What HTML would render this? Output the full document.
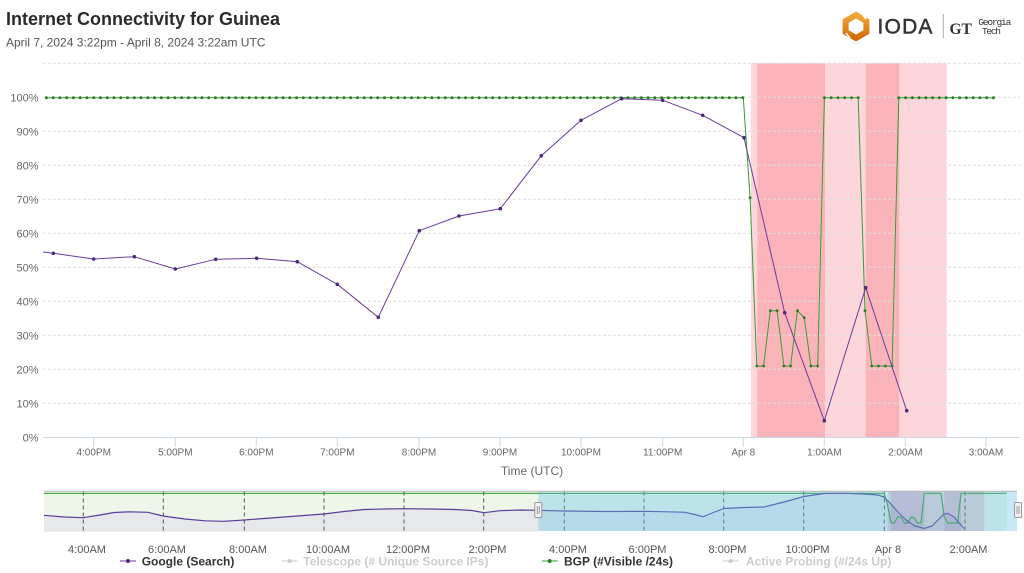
<!DOCTYPE html>
<html>
<head>
<meta charset="utf-8">
<style>
  html,body{margin:0;padding:0;background:#fff;}
  body{width:1024px;height:573px;overflow:hidden;font-family:"Liberation Sans",Arial,sans-serif;}
  svg{display:block;}
  text{font-family:"Liberation Sans",Arial,sans-serif;}
</style>
</head>
<body>
<svg width="1024" height="573" viewBox="0 0 1024 573" xmlns="http://www.w3.org/2000/svg">
  <defs>
    <linearGradient id="og" x1="0" y1="0" x2="0" y2="1">
      <stop offset="0" stop-color="#f2a93a"/>
      <stop offset="1" stop-color="#d2690e"/>
    </linearGradient>
  </defs>

  <!-- Title -->
  <text x="6" y="25" font-size="18" font-weight="bold" fill="#2b2b2b">Internet Connectivity for Guinea</text>
  <text x="6" y="46.5" font-size="12" fill="#555">April 7, 2024 3:22pm - April 8, 2024 3:22am UTC</text>

  <!-- Logo -->
  <polygon points="856,15 866.4,21 866.4,32 856,38 845.6,32 845.6,21" fill="none" stroke="url(#og)" stroke-width="6" stroke-linejoin="miter"/>
  <line x1="862" y1="14" x2="866" y2="19" stroke="#fff" stroke-width="1.5"/>
  <line x1="846" y1="33" x2="850" y2="38" stroke="#fff" stroke-width="1.5"/>
  <text x="877.5" y="33.5" font-size="21" fill="#333" stroke="#333" stroke-width="0.5" letter-spacing="1.2">IODA</text>
  <line x1="943.3" y1="14" x2="943.3" y2="38" stroke="#aaa" stroke-width="1"/>
  <text x="949.5" y="34" font-size="15.5" font-weight="bold" fill="#333" style="font-family:'Liberation Serif',serif">GT</text>
  <text x="978.3" y="25" font-size="9.5" fill="#333" style="font-family:'Liberation Mono','Liberation Serif',serif" textLength="33">Georgia</text>
  <text x="982" y="34" font-size="9.5" fill="#333" style="font-family:'Liberation Mono','Liberation Serif',serif" textLength="19">Tech</text>

  <!-- Plot bands -->
  <rect x="751" y="63.3" width="195.7" height="374" fill="#fdd6db"/>
  <rect x="757.3" y="63.3" width="67.7" height="374" fill="#fbb3ba"/>
  <rect x="865.7" y="63.3" width="33.6" height="374" fill="#fbb3ba"/>

  <!-- Gridlines -->
  <g stroke="#dedede" stroke-width="1" stroke-dasharray="3,2">
    <line x1="43" y1="63.3" x2="1020" y2="63.3"/>
    <line x1="43" y1="97.3" x2="1020" y2="97.3"/>
    <line x1="43" y1="131.3" x2="1020" y2="131.3"/>
    <line x1="43" y1="165.3" x2="1020" y2="165.3"/>
    <line x1="43" y1="199.3" x2="1020" y2="199.3"/>
    <line x1="43" y1="233.3" x2="1020" y2="233.3"/>
    <line x1="43" y1="267.3" x2="1020" y2="267.3"/>
    <line x1="43" y1="301.3" x2="1020" y2="301.3"/>
    <line x1="43" y1="335.3" x2="1020" y2="335.3"/>
    <line x1="43" y1="369.3" x2="1020" y2="369.3"/>
    <line x1="43" y1="403.3" x2="1020" y2="403.3"/>
  </g>
  <!-- X axis -->
  <line x1="43" y1="437.5" x2="1020" y2="437.5" stroke="#ccd6eb" stroke-width="1"/>
  <g stroke="#ccd6eb" stroke-width="1">
    <line x1="93.7" y1="437.5" x2="93.7" y2="447"/>
    <line x1="175.3" y1="437.5" x2="175.3" y2="447"/>
    <line x1="256.3" y1="437.5" x2="256.3" y2="447"/>
    <line x1="337.3" y1="437.5" x2="337.3" y2="447"/>
    <line x1="419" y1="437.5" x2="419" y2="447"/>
    <line x1="500" y1="437.5" x2="500" y2="447"/>
    <line x1="581" y1="437.5" x2="581" y2="447"/>
    <line x1="662.7" y1="437.5" x2="662.7" y2="447"/>
    <line x1="743.3" y1="437.5" x2="743.3" y2="447"/>
    <line x1="824.3" y1="437.5" x2="824.3" y2="447"/>
    <line x1="905.3" y1="437.5" x2="905.3" y2="447"/>
    <line x1="986" y1="437.5" x2="986" y2="447"/>
  </g>

  <!-- Y labels -->
  <g font-size="11" fill="#666" text-anchor="end">
    <text x="38.5" y="101.3">100%</text>
    <text x="38.5" y="135.3">90%</text>
    <text x="38.5" y="169.3">80%</text>
    <text x="38.5" y="203.3">70%</text>
    <text x="38.5" y="237.3">60%</text>
    <text x="38.5" y="271.3">50%</text>
    <text x="38.5" y="305.3">40%</text>
    <text x="38.5" y="339.3">30%</text>
    <text x="38.5" y="373.3">20%</text>
    <text x="38.5" y="407.3">10%</text>
    <text x="38.5" y="441.3">0%</text>
  </g>
  <!-- X labels -->
  <g font-size="10" fill="#666" text-anchor="middle">
    <text x="93.7" y="455.5">4:00PM</text>
    <text x="175.3" y="455.5">5:00PM</text>
    <text x="256.3" y="455.5">6:00PM</text>
    <text x="337.3" y="455.5">7:00PM</text>
    <text x="419" y="455.5">8:00PM</text>
    <text x="500" y="455.5">9:00PM</text>
    <text x="581" y="455.5">10:00PM</text>
    <text x="662.7" y="455.5">11:00PM</text>
    <text x="743.3" y="455.5">Apr 8</text>
    <text x="824.3" y="455.5">1:00AM</text>
    <text x="905.3" y="455.5">2:00AM</text>
    <text x="986" y="455.5">3:00AM</text>
  </g>
  <text x="532" y="475" font-size="12" fill="#666" text-anchor="middle">Time (UTC)</text>

  <!-- BGP series -->
  <polyline fill="none" stroke="#3a9c32" stroke-width="1" stroke-linejoin="round"
    points="46.4,97.7 743.3,97.7 750.1,197.7 756.8,366 763.6,366 770.3,310.7 777.1,310.7 783.9,366 790.6,366 797.4,310.7 804.2,317.7 810.9,366 817.7,366 824.4,97.7 831.2,97.7 838,97.7 844.7,97.7 851.5,97.7 858.2,97.7 865,310.7 871.8,366 878.5,366 885.3,366 892.1,366 898.8,97.7 993.5,97.7"/>
  <line x1="46.4" y1="97.7" x2="742.8" y2="97.7" stroke="#2a7d25" stroke-width="3" stroke-dasharray="0 6.761" stroke-linecap="round"/>
  <line x1="898.8" y1="97.7" x2="993.6" y2="97.7" stroke="#2a7d25" stroke-width="3" stroke-dasharray="0 6.76" stroke-linecap="round"/>
  <g fill="#2a7d25">
    <circle cx="750.1" cy="197.7" r="1.4"/><circle cx="756.8" cy="366" r="1.4"/><circle cx="763.6" cy="366" r="1.4"/>
    <circle cx="770.3" cy="310.7" r="1.4"/><circle cx="777.1" cy="310.7" r="1.4"/><circle cx="783.9" cy="366" r="1.4"/>
    <circle cx="790.6" cy="366" r="1.4"/><circle cx="797.4" cy="310.7" r="1.4"/><circle cx="804.2" cy="317.7" r="1.4"/>
    <circle cx="810.9" cy="366" r="1.4"/><circle cx="817.7" cy="366" r="1.4"/><circle cx="824.4" cy="97.7" r="1.4"/>
    <circle cx="831.2" cy="97.7" r="1.4"/><circle cx="838" cy="97.7" r="1.4"/><circle cx="844.7" cy="97.7" r="1.4"/>
    <circle cx="851.5" cy="97.7" r="1.4"/><circle cx="858.2" cy="97.7" r="1.4"/><circle cx="865" cy="310.7" r="1.4"/>
    <circle cx="871.8" cy="366" r="1.4"/><circle cx="878.5" cy="366" r="1.4"/><circle cx="885.3" cy="366" r="1.4"/>
    <circle cx="892.1" cy="366" r="1.4"/>
  </g>

  <!-- Google series -->
  <polyline fill="none" stroke="#6a3d9a" stroke-width="1" stroke-linejoin="round"
    points="43,252 53.3,253.3 93.7,259 134.3,256.7 175.3,269 215.7,259.3 256.7,258.3 297.3,261.7 337.3,284.3 378.3,317.3 419.3,230.7 459,216 500.3,208.7 541.3,155.7 581,120.3 621.7,98.7 662.7,100.3 702.7,115.3 744,137.7 784.7,312.7 824.3,420.7 865.7,287.7 906.7,410.7"/>
  <g fill="#4b2a7a">
    <circle cx="53.3" cy="253.3" r="1.8"/><circle cx="93.7" cy="259" r="1.8"/><circle cx="134.3" cy="256.7" r="1.8"/>
    <circle cx="175.3" cy="269" r="1.8"/><circle cx="215.7" cy="259.3" r="1.8"/><circle cx="256.7" cy="258.3" r="1.8"/>
    <circle cx="297.3" cy="261.7" r="1.8"/><circle cx="337.3" cy="284.3" r="1.8"/><circle cx="378.3" cy="317.3" r="1.8"/>
    <circle cx="419.3" cy="230.7" r="1.8"/><circle cx="459" cy="216" r="1.8"/><circle cx="500.3" cy="208.7" r="1.8"/>
    <circle cx="541.3" cy="155.7" r="1.8"/><circle cx="581" cy="120.3" r="1.8"/><circle cx="621.7" cy="98.7" r="1.8"/>
    <circle cx="662.7" cy="100.3" r="1.8"/><circle cx="702.7" cy="115.3" r="1.8"/><circle cx="744" cy="137.7" r="1.8"/>
    <circle cx="784.7" cy="312.7" r="1.8"/><circle cx="824.3" cy="420.7" r="1.8"/><circle cx="865.7" cy="287.7" r="1.8"/>
    <circle cx="906.7" cy="410.7" r="1.8"/>
  </g>

  <!-- Navigator -->
  <polygon fill="#eef6ea" points="44,493.3 884.3,493.3 887.6,505 891,523 894.3,523 897.6,517 901,517 904.3,523 907.6,523 911,517 914.3,518 917.6,523 921,523 924.3,493.3 941,493.3 944.3,517 947.6,523 957.6,523 961,493.3 1006.7,493.3 1006.7,531 44,531"/>
  <polygon fill="#e6e8ec" points="44,515.3 64,517 83,517.7 100,515 114,512.5 130,511.8 148,512.3 163,516 185,519 205,520.8 224,521.3 244,520 284,517 324,514 344,511.5 364,509.5 384,509 404,508.7 430,509 455,509.5 472,510.5 484,512.7 500,510.7 520,510 538,510.3 564,511 604,511.5 644,511.3 684,512.2 695,514.5 703,516.8 712,513 724,508.5 744,507.5 764,507 784,502 804,496.5 824,493.5 844,493.3 864,494 878,495 884,497 890,503 898,512 906,520 914,525.5 924,528.5 932,526 938,520 944,514 948,513.5 954,517 960,524 964,528.5 964,531 44,531"/>
  <!-- nav outage bands -->
  <rect x="887.6" y="491.5" width="96.7" height="39.5" fill="rgba(215,120,150,0.30)"/>
  <rect x="891" y="491.5" width="33.6" height="39.5" fill="rgba(180,90,140,0.22)"/>
  <rect x="944.3" y="491.5" width="16.7" height="39.5" fill="rgba(180,90,140,0.22)"/>
  <!-- nav grid -->
  <g stroke="#555" stroke-width="1" stroke-dasharray="4,3">
    <line x1="83.3" y1="491.5" x2="83.3" y2="531"/>
    <line x1="163.3" y1="491.5" x2="163.3" y2="531"/>
    <line x1="244.3" y1="491.5" x2="244.3" y2="531"/>
    <line x1="324" y1="491.5" x2="324" y2="531"/>
    <line x1="404" y1="491.5" x2="404" y2="531"/>
    <line x1="483.7" y1="491.5" x2="483.7" y2="531"/>
    <line x1="564.3" y1="491.5" x2="564.3" y2="531"/>
    <line x1="644" y1="491.5" x2="644" y2="531"/>
    <line x1="723.7" y1="491.5" x2="723.7" y2="531"/>
    <line x1="803.7" y1="491.5" x2="803.7" y2="531"/>
    <line x1="884.3" y1="491.5" x2="884.3" y2="531"/>
    <line x1="965" y1="491.5" x2="965" y2="531"/>
  </g>
  <!-- nav series lines -->
  <polyline fill="none" stroke="#33a02c" stroke-width="1.2" stroke-linejoin="round"
    points="44,493.3 884.3,493.3 887.6,505 891,523 894.3,523 897.6,517 901,517 904.3,523 907.6,523 911,517 914.3,518 917.6,523 921,523 924.3,493.3 941,493.3 944.3,517 947.6,523 957.6,523 961,493.3 1006.7,493.3"/>
  <polyline fill="none" stroke="#5a3d9a" stroke-width="1.2" stroke-linejoin="round"
    points="44,515.3 64,517 83,517.7 100,515 114,512.5 130,511.8 148,512.3 163,516 185,519 205,520.8 224,521.3 244,520 284,517 324,514 344,511.5 364,509.5 384,509 404,508.7 430,509 455,509.5 472,510.5 484,512.7 500,510.7 520,510 538,510.3 564,511 604,511.5 644,511.3 684,512.2 695,514.5 703,516.8 712,513 724,508.5 744,507.5 764,507 784,502 804,496.5 824,493.5 844,493.3 864,494 878,495 884,497 890,503 898,512 906,520 914,525.5 924,528.5 932,526 938,520 944,514 948,513.5 954,517 960,524 964,528.5"/>
  <!-- selection mask -->
  <rect x="538.3" y="491.5" width="478.7" height="39.5" fill="rgba(100,195,232,0.36)"/>
  <!-- outline -->
  <line x1="44" y1="491.3" x2="1017" y2="491.3" stroke="#b5b5b5" stroke-width="1"/>
  <line x1="44" y1="531" x2="538.3" y2="531" stroke="#e0e0e0" stroke-width="1"/>
  <!-- handles -->
  <g stroke="#999" stroke-width="1" fill="#f2f2f2">
    <rect x="534.8" y="502.5" width="7" height="15" rx="1"/>
    <rect x="1014.5" y="502.5" width="7" height="15" rx="1"/>
  </g>
  <g stroke="#999" stroke-width="1">
    <line x1="537.3" y1="506" x2="537.3" y2="514"/><line x1="539.3" y1="506" x2="539.3" y2="514"/>
    <line x1="1017" y1="506" x2="1017" y2="514"/><line x1="1019" y1="506" x2="1019" y2="514"/>
  </g>
  <!-- nav labels -->
  <g font-size="11" fill="#555" text-anchor="middle">
    <text x="87" y="553">4:00AM</text>
    <text x="167" y="553">6:00AM</text>
    <text x="248" y="553">8:00AM</text>
    <text x="328" y="553">10:00AM</text>
    <text x="408" y="553">12:00PM</text>
    <text x="487.5" y="553">2:00PM</text>
    <text x="568" y="553">4:00PM</text>
    <text x="647.5" y="553">6:00PM</text>
    <text x="727.5" y="553">8:00PM</text>
    <text x="807.5" y="553">10:00PM</text>
    <text x="888" y="553">Apr 8</text>
    <text x="968.5" y="553">2:00AM</text>
  </g>

  <!-- Legend -->
  <line x1="120" y1="561" x2="136" y2="561" stroke="#6a3d9a" stroke-width="1"/>
  <circle cx="128" cy="561" r="2" fill="#4b2a7a"/>
  <text x="141.7" y="565.3" font-size="12" font-weight="bold" fill="#333">Google (Search)</text>

  <line x1="281.7" y1="561" x2="297.7" y2="561" stroke="#ccc" stroke-width="1"/>
  <circle cx="289.7" cy="561" r="2" fill="#ccc"/>
  <text x="303.3" y="565.3" font-size="12" font-weight="bold" fill="#ccc">Telescope (# Unique Source IPs)</text>

  <line x1="541.7" y1="561" x2="557.7" y2="561" stroke="#33a02c" stroke-width="1"/>
  <circle cx="549.7" cy="561" r="2" fill="#2a7d25"/>
  <text x="564" y="565.3" font-size="12" font-weight="bold" fill="#333">BGP (#Visible /24s)</text>

  <line x1="722.7" y1="561" x2="738.7" y2="561" stroke="#ccc" stroke-width="1"/>
  <circle cx="730.7" cy="561" r="2" fill="#ccc"/>
  <text x="746" y="565.3" font-size="12" font-weight="bold" fill="#ccc">Active Probing (#/24s Up)</text>
</svg>
</body>
</html>
